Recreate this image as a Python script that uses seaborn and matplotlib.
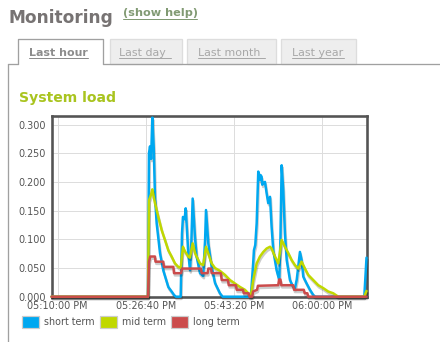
import numpy as np
import pandas as pd
import seaborn as sns
import matplotlib
matplotlib.use("Agg")
import matplotlib.pyplot as plt
import matplotlib.patheffects as pe
from matplotlib.patches import Rectangle, Patch

# ---------------- data (seconds after 05:10:00 PM, load values) ----------------
short_t = [-68, 1025, 1036, 1048, 1060, 1074, 1090, 1104, 1123, 1161, 1198, 1255, 1293, 1320, 1340,
           1395, 1410, 1421, 1440, 1452, 1481, 1501, 1515, 1531, 1557, 1576, 1614, 1650, 1672, 1682,
           1708, 1746, 1784, 1840, 1870, 2190, 2199, 2217, 2225, 2240, 2256, 2274, 2293, 2300, 2312,
           2320, 2331, 2350, 2369, 2387, 2407, 2425, 2444, 2482, 2512, 2525, 2539, 2557, 2576, 2596,
           2633, 2670, 2690, 2710, 2746, 2765, 2784, 2822, 2860, 2897, 2920, 3475, 3500]
short_v = [0, 0, 0.25, 0.262, 0.24, 0.312, 0.26, 0.174, 0.128, 0.076, 0.046, 0.017, 0.009, 0.003, 0,
           0, 0.11, 0.139, 0.135, 0.154, 0.076, 0.046, 0.09, 0.171, 0.104, 0.07, 0.041, 0.036, 0.1, 0.151,
           0.093, 0.052, 0.024, 0.006, 0, 0, 0.02, 0.06, 0.081, 0.09, 0.128, 0.218, 0.203, 0.212, 0.209,
           0.195, 0.198, 0.2, 0.18, 0.163, 0.174, 0.122, 0.081, 0.046, 0.029, 0.1, 0.229, 0.186, 0.11, 0.064,
           0.029, 0.017, 0.015, 0.03, 0.078, 0.064, 0.035, 0.023, 0.012, 0.003, 0, 0, 0.068]

mid_t = [-68, 1025, 1036, 1060, 1074, 1104, 1142, 1180, 1217, 1255, 1293, 1331, 1368, 1395, 1421,
         1440, 1481, 1500, 1531, 1560, 1614, 1650, 1682, 1746, 1784, 1840, 1897, 1954, 2010, 2067,
         2123, 2161, 2190, 2217, 2256, 2293, 2331, 2369, 2407, 2425, 2463, 2501, 2539, 2576, 2614,
         2652, 2690, 2727, 2765, 2803, 2840, 2897, 2954, 3010, 3067, 3123, 3161, 3180, 3475, 3500]
mid_v = [0, 0, 0.168, 0.178, 0.187, 0.163, 0.139, 0.116, 0.099, 0.081, 0.07, 0.058, 0.052, 0.05, 0.087,
         0.08, 0.07, 0.068, 0.093, 0.075, 0.058, 0.055, 0.087, 0.058, 0.05, 0.045, 0.038, 0.029, 0.023, 0.017,
         0.012, 0.006, 0.001, 0.029, 0.058, 0.07, 0.078, 0.084, 0.087, 0.084, 0.07, 0.058, 0.099, 0.087, 0.076,
         0.064, 0.055, 0.049, 0.061, 0.049, 0.038, 0.029, 0.02, 0.015, 0.009, 0.006, 0.002, 0, 0, 0.01]

long_t = [-68, 1025, 1036, 1050, 1104, 1110, 1198, 1205, 1312, 1320, 1400, 1410, 1625, 1633, 1700,
          1708, 1740, 1746, 1850, 1860, 1930, 1940, 2020, 2030, 2100, 2110, 2165, 2175, 2205, 2215,
          2260, 2270, 2500, 2510, 2525, 2535, 2670, 2680, 2790, 2800, 2830, 2840, 3500]
long_v = [0, 0, 0.061, 0.07, 0.07, 0.061, 0.061, 0.052, 0.052, 0.041, 0.041, 0.049, 0.049, 0.041, 0.041,
          0.049, 0.049, 0.041, 0.041, 0.029, 0.029, 0.02, 0.02, 0.012, 0.012, 0.006, 0.006, 0, 0, 0.009,
          0.012, 0.019, 0.02, 0.03, 0.03, 0.02, 0.02, 0.012, 0.012, 0.006, 0.006, 0, 0]

series_names = ["short term", "mid term", "long term"]
series_colors = ["#00A8F0", "#C0D800", "#CB4B4B"]

x_ticks = [0, 1000, 2000, 3000]
x_tick_labels = ["05:10:00 PM", "05:26:40 PM", "05:43:20 PM", "06:00:00 PM"]
y_ticks = [0, 0.05, 0.10, 0.15, 0.20, 0.25, 0.30]
y_tick_labels = ["0.000", "0.050", "0.100", "0.150", "0.200", "0.250", "0.300"]

df = pd.concat([
    pd.DataFrame({"t": short_t, "load": short_v, "series": series_names[0]}),
    pd.DataFrame({"t": mid_t, "load": mid_v, "series": series_names[1]}),
    pd.DataFrame({"t": long_t, "load": long_v, "series": series_names[2]}),
], ignore_index=True)

# ---------------- figure ----------------
sns.set_style("white")
plt.rcParams["font.family"] = ["DejaVu Sans"]
W, H = 440, 342
fig = plt.figure(figsize=(W / 100, H / 100), dpi=100)
PX = 0.72  # points per pixel

# page decorations in pixel coordinates
bg = fig.add_axes([0, 0, 1, 1], zorder=-5)
bg.set_xlim(0, W)
bg.set_ylim(H, 0)
bg.axis("off")

border_c = "#a0a0a0"
bg.plot([8.3, 18.3], [64, 64], color=border_c, lw=1.3 * PX)
bg.plot([102.7, 440], [64, 64], color=border_c, lw=1.3 * PX)
bg.plot([8.3, 8.3], [64, 342], color=border_c, lw=1.3 * PX)
bg.plot([18.3, 18.3, 102.7, 102.7], [64, 39.3, 39.3, 64], color=border_c, lw=1.3 * PX)
for x0, x1 in [(110, 181.7), (187.3, 275.7), (281, 356)]:
    bg.add_patch(Rectangle((x0, 39.3), x1 - x0, 24.2, facecolor="#eeeeee",
                           edgecolor="#dddddd", lw=1.3 * PX))

bg.text(8, 22.7, "Monitoring", fontsize=17 * PX, fontweight="bold", color="#777373", va="baseline")
bg.text(123, 16.3, "(show help)", fontsize=11.2 * PX, fontweight="bold", color="#819a73", va="baseline")
bg.plot([123, 197], [18.6, 18.6], color="#819a73", lw=1 * PX)

tabs = [("Last hour", 29.3, 88.3, "bold", "#8c8c8c"),
        ("Last day ", 119.3, 170.7, "normal", "#a8a8a8"),
        ("Last month ", 198, 265, "normal", "#a8a8a8"),
        ("Last year", 292, 344.3, "normal", "#a8a8a8")]
for label, x0, x1, fw, c in tabs:
    bg.text(x0, 55.8, label, fontsize=11 * PX, fontweight=fw, color=c, va="baseline")
    bg.plot([x0, x1], [57.5, 57.5], color=c, lw=1 * PX)

bg.text(19.3, 101.7, "System load", fontsize=14 * PX, fontweight="bold", color="#a9c41f", va="baseline")

# ---------------- chart ----------------
ax = fig.add_axes([51.5 / W, (H - 296.7) / H, 315 / W, 181.2 / H])
sns.lineplot(data=df, x="t", y="load", hue="series", hue_order=series_names,
             palette=series_colors, estimator=None, sort=False, lw=1.8, ax=ax, legend=False)
for ln in ax.lines:
    ln.set_clip_on(False)
    ln.set_zorder(3)
    ln.set_path_effects([pe.SimpleLineShadow(offset=(0.6, -1.6), shadow_color="#000000", alpha=0.2),
                         pe.Normal()])

ax.set_xlim(-68, 3500)
ax.set_ylim(0, 0.3157)
ax.set_xticks(x_ticks)
ax.set_xticklabels(x_tick_labels)
ax.set_yticks(y_ticks)
ax.set_yticklabels(y_tick_labels)
ax.set_xlabel("")
ax.set_ylabel("")
ax.tick_params(axis="both", length=0, labelsize=9.6 * PX, labelcolor="#545454")
ax.tick_params(axis="x", pad=3.4)
ax.tick_params(axis="y", pad=4)
ax.grid(True, color="#dddddd", lw=1 * PX)
ax.set_axisbelow(True)
for s in ax.spines.values():
    s.set_color("#545454")
    s.set_linewidth(2.6 * PX)
    s.set_zorder(2)

# legend
handles = [Patch(facecolor=c, edgecolor="#cccccc", lw=1.2 * PX, label=n)
           for n, c in zip(series_names, series_colors)]
fig.legend(handles=handles, loc="upper left", bbox_to_anchor=(22.3 / W, 1 - 316.3 / H),
           ncol=3, frameon=False, fontsize=9.6 * PX, labelcolor="#545454",
           handlelength=1.75, handleheight=1.45, handletextpad=0.55, columnspacing=0.5,
           borderpad=0, borderaxespad=0)

fig.savefig("out.png", dpi=100)
